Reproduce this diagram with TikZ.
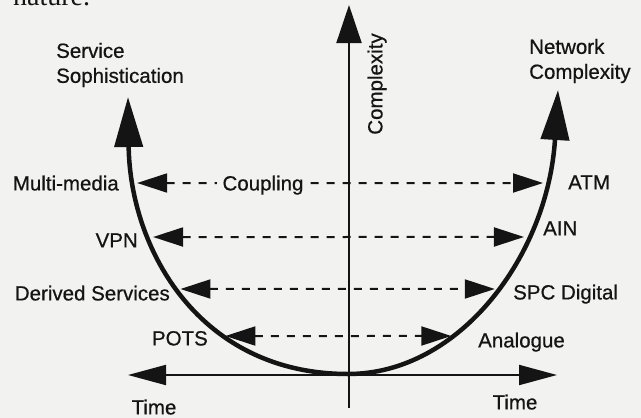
\documentclass[tikz,border=0pt]{standalone}
\usepackage{fontspec}
\setmainfont{Liberation Sans}[FakeBold=0.6]
\newfontfamily\labelfont{Liberation Sans}[AutoFakeBold=0.6]
\newfontfamily\scanserif{Liberation Serif}
\usetikzlibrary{arrows.meta,intersections}
\definecolor{bgcol}{RGB}{242,242,240}
\definecolor{ink}{RGB}{20,20,20}
\begin{document}
\begin{tikzpicture}[x=1pt,y=-1pt,
  lbl/.style={font=\labelfont\fontsize{20.5}{25}\selectfont\bfseries, text=ink, inner sep=0pt, text depth=0pt, text height=14.8pt},
  ttl/.style={font=\labelfont\fontsize{20.5}{25}\selectfont\bfseries, text=ink, inner sep=0pt, align=left},
  curvearrow/.style={draw=ink, line width=4.5pt, -{Triangle[length=50pt,width=28pt]}},
  axisline/.style={draw=ink, line width=2pt},
  link/.style={draw=ink, line width=2pt, dash pattern=on 8pt off 8pt,
    {Triangle[length=30pt,width=19pt]}-{Triangle[length=30pt,width=19pt]}},
]
\fill[bgcol] (0,0) rectangle (641,418);
\useasboundingbox (0,0) rectangle (641,418);

% fragment of page text (cut by the top edge, as in the scan)
\node[anchor=base west, inner sep=0pt, font=\scanserif\fontsize{28}{30}\selectfont, text=ink] (frag) at (13,5) {nature.};

% axes
\coordinate (vtop) at (349,5);
\coordinate (vbot) at (349,408);
\draw[axisline, -{Triangle[length=38pt,width=25pt]}] (vbot) -- (vtop);
\coordinate (hl) at (128,375);
\coordinate (hr) at (557,375);
\draw[axisline, {Triangle[length=38pt,width=20pt]}-{Triangle[length=38pt,width=20pt]}] (hl) -- (hr);

% U curve
\coordinate (bot) at (348,374);
\coordinate (ltip) at (128,97);
\coordinate (rtip) at (558,90);
\draw[curvearrow, name path=L] (bot) .. controls (200,374) and (130,250) .. (ltip);
\draw[curvearrow, name path=R] (bot) .. controls (460,374) and (548,255) .. (rtip);

% helper rows
\path[name path=h1] (0,183) -- (641,183);
\path[name path=h2] (0,237) -- (641,237);
\path[name path=h3] (0,289) -- (641,289);
\path[name path=h4] (0,336) -- (641,336);
\path[name intersections={of=L and h1, by=l1}];
\path[name intersections={of=R and h1, by=r1}];
\path[name intersections={of=L and h2, by=l2}];
\path[name intersections={of=R and h2, by=r2}];
\path[name intersections={of=L and h3, by=l3}];
\path[name intersections={of=R and h3, by=r3}];
\path[name intersections={of=L and h4, by=l4}];
\path[name intersections={of=R and h4, by=r4}];

\draw[link] (l1) -- (r1);
\draw[link] (l2) -- (r2);
\draw[link] (l3) -- (r3);
\draw[link] (l4) -- (r4);

% labels
\node[lbl, fill=bgcol, inner xsep=6pt] (coupling) at (263,183) {Coupling};
\node[ttl, anchor=west] (service) at (56,65) {Service\\Sophistication};
\node[ttl, anchor=west] (network) at (529,61) {Network\\Complexity};
\node[lbl, rotate=90] (cplx) at (375,84) {Complexity};
\node[lbl, anchor=east] (mm) at (119,183) {Multi-media};
\node[lbl, anchor=west] (atm) at (568,182) {ATM};
\node[lbl, anchor=east] (vpn) at (138,240) {VPN};
\node[lbl, anchor=west] (ain) at (543,228) {AIN};
\node[lbl, anchor=east] (ds) at (170,293) {Derived Services};
\node[lbl, anchor=west] (spc) at (513,292) {SPC Digital};
\node[lbl, anchor=east] (pots) at (208,338) {POTS};
\node[lbl, anchor=west] (analog) at (478,340) {Analogue};
\node[lbl] (timel) at (154,407) {Time};
\node[lbl] (timer) at (515,402) {Time};
\end{tikzpicture}
\end{document}
